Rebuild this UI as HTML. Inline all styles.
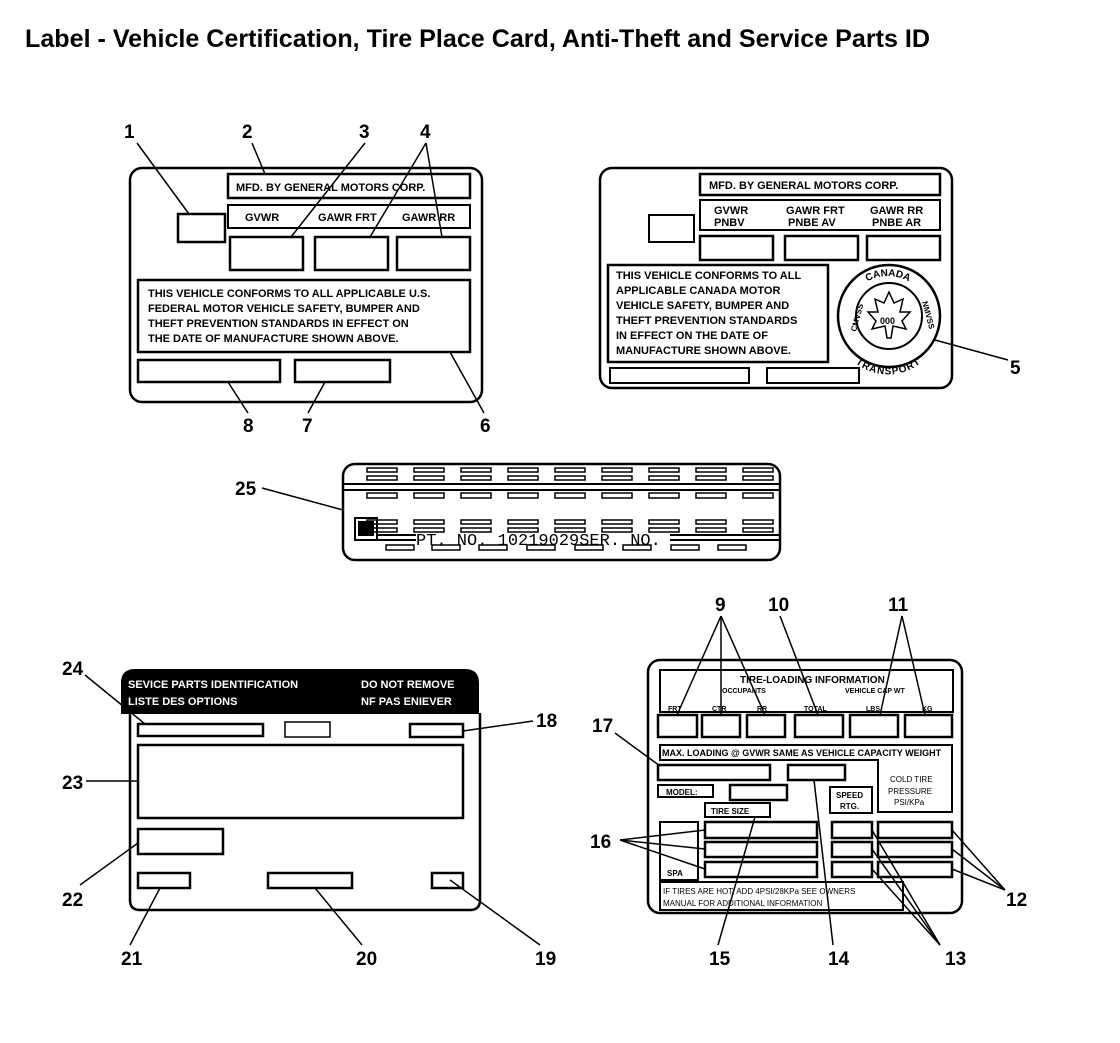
<!DOCTYPE html>
<html><head><style>
body{margin:0;background:#fff}
svg text{font-family:"Liberation Sans",Arial,sans-serif;font-weight:bold}
</style></head><body>
<svg width="1120" height="1038" viewBox="0 0 1120 1038" xmlns="http://www.w3.org/2000/svg" fill="none" stroke="#000" stroke-width="2">
<defs>
<path id="arcTop" d="M846 318 A42 42 0 0 1 930 318"/>
<path id="arcBot" d="M842 322 A46 46 0 0 0 934 322"/>
</defs>
<text x="25" y="47" font-size="25" fill="#000" stroke="none" textLength="905" lengthAdjust="spacingAndGlyphs">Label - Vehicle Certification, Tire Place Card, Anti-Theft and Service Parts ID</text>

<!-- Label 1 -->
<rect x="130" y="168" width="352" height="234" rx="12" stroke-width="2.5"/>
<rect x="178" y="214" width="47" height="28" stroke-width="2.5"/>
<rect x="228" y="174" width="242" height="24" stroke-width="2.5"/>
<rect x="228" y="205" width="242" height="23"/>
<g fill="#000" stroke="none" font-size="11">
<text x="236" y="191">MFD. BY GENERAL MOTORS CORP.</text>
<text x="245" y="221">GVWR</text><text x="318" y="221">GAWR FRT</text><text x="402" y="221">GAWR RR</text>
<text x="148" y="297">THIS VEHICLE CONFORMS TO ALL APPLICABLE U.S.</text>
<text x="148" y="312">FEDERAL MOTOR VEHICLE SAFETY, BUMPER AND</text>
<text x="148" y="327">THEFT PREVENTION STANDARDS IN EFFECT ON</text>
<text x="148" y="342">THE DATE OF MANUFACTURE SHOWN ABOVE.</text>
</g>
<rect x="230" y="237" width="73" height="33" stroke-width="2.5"/>
<rect x="315" y="237" width="73" height="33" stroke-width="2.5"/>
<rect x="397" y="237" width="73" height="33" stroke-width="2.5"/>
<rect x="138" y="280" width="332" height="72" stroke-width="2.5"/>
<rect x="138" y="360" width="142" height="22" stroke-width="2.5"/>
<rect x="295" y="360" width="95" height="22" stroke-width="2.5"/>

<!-- Label 2 -->
<rect x="600" y="168" width="352" height="220" rx="12" stroke-width="2.5"/>
<rect x="700" y="174" width="240" height="21" stroke-width="2.5"/>
<rect x="649" y="215" width="45" height="27"/>
<rect x="700" y="200" width="240" height="30"/>
<g fill="#000" stroke="none" font-size="11">
<text x="709" y="189">MFD. BY GENERAL MOTORS CORP.</text>
<text x="714" y="214">GVWR</text><text x="714" y="226">PNBV</text>
<text x="786" y="214">GAWR FRT</text><text x="788" y="226">PNBE AV</text>
<text x="870" y="214">GAWR RR</text><text x="872" y="226">PNBE AR</text>
<text x="616" y="279">THIS VEHICLE CONFORMS TO ALL</text>
<text x="616" y="294">APPLICABLE CANADA MOTOR</text>
<text x="616" y="309">VEHICLE SAFETY, BUMPER AND</text>
<text x="616" y="324">THEFT PREVENTION STANDARDS</text>
<text x="616" y="339">IN EFFECT ON THE DATE OF</text>
<text x="616" y="354">MANUFACTURE SHOWN ABOVE.</text>
<text font-size="10"><textPath href="#arcTop" startOffset="50%" text-anchor="middle">CANADA</textPath></text>
<text font-size="10"><textPath href="#arcBot" startOffset="50%" text-anchor="middle" dominant-baseline="hanging">TRANSPORT</textPath></text>
<text x="880" y="324" font-size="9">000</text>
<text x="856" y="332" font-size="8" transform="rotate(-75 856 332)">CMVSS</text>
<text x="922" y="302" font-size="8" transform="rotate(75 922 302)">NMVSS</text>
</g>
<rect x="700" y="236" width="73" height="24" stroke-width="2.5"/>
<rect x="785" y="236" width="73" height="24" stroke-width="2.5"/>
<rect x="867" y="236" width="73" height="24" stroke-width="2.5"/>
<rect x="608" y="265" width="220" height="97" stroke-width="2.5"/>
<circle cx="889" cy="316" r="51" stroke-width="2.5"/>
<circle cx="889" cy="316" r="33"/>
<path d="M889 292 L894 303 L903 299 L900 312 L910 312 L902 321 L906 329 L893 326 L891 338 L887 338 L885 326 L872 329 L876 321 L868 312 L878 312 L875 299 L884 303 Z" stroke-width="1.5"/>
<rect x="610" y="368" width="139" height="15"/>
<rect x="767" y="368" width="92" height="15"/>

<!-- Label 25 -->
<rect x="343" y="464" width="437" height="96" rx="12" stroke-width="2.5"/>
<line x1="343" y1="484" x2="780" y2="484"/>
<line x1="343" y1="490" x2="780" y2="490"/>
<g stroke-width="1.5">
<g id="r1">
<rect x="367" y="468" width="30" height="4"/><rect x="367" y="476" width="30" height="4"/>
<rect x="367" y="493" width="30" height="5"/>
<rect x="367" y="520" width="30" height="4"/><rect x="367" y="528" width="30" height="4"/>
</g>
<use href="#r1" x="47"/><use href="#r1" x="94"/><use href="#r1" x="141"/><use href="#r1" x="188"/><use href="#r1" x="235"/><use href="#r1" x="282"/><use href="#r1" x="329"/><use href="#r1" x="376"/>
<rect x="386" y="545" width="28" height="5"/><rect x="432" y="545" width="28" height="5"/><rect x="479" y="545" width="28" height="5"/><rect x="527" y="545" width="28" height="5"/><rect x="575" y="545" width="28" height="5"/><rect x="623" y="545" width="28" height="5"/><rect x="671" y="545" width="28" height="5"/><rect x="718" y="545" width="28" height="5"/>
</g>
<rect x="355" y="518" width="22" height="22" stroke-width="2"/>
<rect x="359" y="522" width="14" height="13" fill="#000"/>
<line x1="378" y1="535" x2="416" y2="535"/><line x1="378" y1="540" x2="416" y2="540"/>
<line x1="670" y1="540" x2="780" y2="540"/><line x1="670" y1="535" x2="780" y2="535"/>
<text x="416" y="545" font-size="17" fill="#000" stroke="none" style="font-family:'Liberation Mono',monospace;font-weight:normal">PT. NO. 10219029SER. NO.</text>

<!-- Service parts label -->
<path d="M130 713 L130 900 Q130 910 140 910 L470 910 Q480 910 480 900 L480 713" stroke-width="2.5"/>
<path d="M122 713 L122 683 Q122 670 135 670 L465 670 Q478 670 478 683 L478 713 Z" fill="#000"/>
<g fill="#fff" stroke="none" font-size="11">
<text x="128" y="688">SEVICE PARTS IDENTIFICATION</text>
<text x="128" y="705">LISTE DES OPTIONS</text>
<text x="361" y="688">DO NOT REMOVE</text>
<text x="361" y="705">NF PAS ENIEVER</text>
</g>
<rect x="138" y="724" width="125" height="12" stroke-width="2.5"/>
<rect x="285" y="722" width="45" height="15" stroke-width="1.5"/>
<rect x="410" y="724" width="53" height="13" stroke-width="2.5"/>
<rect x="138" y="745" width="325" height="73" stroke-width="2.5"/>
<rect x="138" y="829" width="85" height="25" stroke-width="2.5"/>
<rect x="138" y="873" width="52" height="15" stroke-width="2.5"/>
<rect x="268" y="873" width="84" height="15" stroke-width="2.5"/>
<rect x="432" y="873" width="31" height="15" stroke-width="2.5"/>

<!-- Tire label -->
<rect x="648" y="660" width="314" height="253" rx="12" stroke-width="2.5"/>
<rect x="660" y="670" width="293" height="42"/>
<rect x="658" y="715" width="39" height="22" stroke-width="2.5"/><rect x="702" y="715" width="38" height="22" stroke-width="2.5"/><rect x="747" y="715" width="38" height="22" stroke-width="2.5"/><rect x="795" y="715" width="48" height="22" stroke-width="2.5"/><rect x="850" y="715" width="48" height="22" stroke-width="2.5"/><rect x="905" y="715" width="47" height="22" stroke-width="2.5"/>
<path d="M660 745 H952 V812 H878 V760 H660 Z"/>
<rect x="658" y="765" width="112" height="15" stroke-width="2.5"/>
<rect x="788" y="765" width="57" height="15" stroke-width="2.5"/>
<rect x="658" y="785" width="55" height="12"/>
<rect x="730" y="785" width="57" height="15" stroke-width="2.5"/>
<rect x="830" y="787" width="42" height="26"/>
<rect x="705" y="803" width="65" height="14"/>
<rect x="660" y="822" width="38" height="58"/>
<rect x="705" y="822" width="112" height="16" stroke-width="2.5"/><rect x="705" y="842" width="112" height="15" stroke-width="2.5"/><rect x="705" y="862" width="112" height="15" stroke-width="2.5"/>
<rect x="832" y="822" width="40" height="16" stroke-width="2.5"/><rect x="832" y="842" width="40" height="15" stroke-width="2.5"/><rect x="832" y="862" width="40" height="15" stroke-width="2.5"/>
<rect x="878" y="822" width="74" height="16" stroke-width="2.5"/><rect x="878" y="842" width="74" height="15" stroke-width="2.5"/><rect x="878" y="862" width="74" height="15" stroke-width="2.5"/>
<rect x="660" y="882" width="243" height="28"/>
<g fill="#000" stroke="none" font-size="9">
<text x="740" y="683" font-size="10">TIRE-LOADING INFORMATION</text>
<text x="722" y="693" font-size="7">OCCUPANTS</text><text x="845" y="693" font-size="7">VEHICLE CAP WT</text>
<text x="668" y="711" font-size="7">FRT</text><text x="712" y="711" font-size="7">CTR</text><text x="757" y="711" font-size="7">RR</text><text x="804" y="711" font-size="7">TOTAL</text><text x="866" y="711" font-size="7">LBS</text><text x="922" y="711" font-size="7">KG</text>
<text x="662" y="756">MAX. LOADING @ GVWR SAME AS VEHICLE CAPACITY WEIGHT</text>
<text x="666" y="795" font-size="8">MODEL:</text>
<text x="711" y="814" font-size="8">TIRE SIZE</text>
<text x="836" y="798" font-size="8">SPEED</text><text x="840" y="809" font-size="8">RTG.</text>
<text x="890" y="782" font-size="8" style="font-weight:normal">COLD TIRE</text><text x="888" y="794" font-size="8" style="font-weight:normal">PRESSURE</text><text x="894" y="805" font-size="8" style="font-weight:normal">PSI/KPa</text>
<text x="667" y="876" font-size="8">SPA</text>
<text x="663" y="894" font-size="8" style="font-weight:normal">IF TIRES ARE HOT, ADD 4PSI/28KPa SEE OWNERS</text>
<text x="663" y="906" font-size="8" style="font-weight:normal">MANUAL FOR ADDITIONAL INFORMATION</text>
</g>

<!-- callout numbers -->
<g fill="#000" stroke="none" font-size="19" style="font-weight:normal">
<text x="124" y="138">1</text><text x="242" y="138">2</text><text x="359" y="138">3</text><text x="420" y="138">4</text>
<text x="1010" y="374">5</text><text x="480" y="432">6</text><text x="302" y="432">7</text><text x="243" y="432">8</text>
<text x="235" y="495">25</text>
<text x="715" y="611">9</text><text x="768" y="611">10</text><text x="888" y="611">11</text>
<text x="1006" y="906">12</text><text x="945" y="965">13</text><text x="828" y="965">14</text><text x="709" y="965">15</text>
<text x="590" y="848">16</text><text x="592" y="732">17</text><text x="536" y="727">18</text>
<text x="535" y="965">19</text><text x="356" y="965">20</text><text x="121" y="965">21</text><text x="62" y="906">22</text><text x="62" y="789">23</text><text x="62" y="675">24</text>
</g>
<g stroke-width="1.5">
<line x1="137" y1="143" x2="189" y2="214"/>
<line x1="252" y1="143" x2="265" y2="174"/>
<line x1="365" y1="143" x2="291" y2="237"/>
<line x1="426" y1="143" x2="370" y2="237"/><line x1="426" y1="143" x2="442" y2="237"/>
<line x1="1008" y1="360" x2="935" y2="340"/>
<line x1="484" y1="413" x2="450" y2="352"/>
<line x1="308" y1="413" x2="325" y2="382"/>
<line x1="248" y1="413" x2="228" y2="382"/>
<line x1="262" y1="488" x2="343" y2="510"/>
<line x1="721" y1="616" x2="677" y2="715"/><line x1="721" y1="616" x2="721" y2="715"/><line x1="721" y1="616" x2="765" y2="715"/>
<line x1="780" y1="616" x2="818" y2="715"/>
<line x1="902" y1="616" x2="880" y2="715"/><line x1="902" y1="616" x2="925" y2="715"/>
<line x1="1005" y1="890" x2="952" y2="830"/><line x1="1005" y1="890" x2="952" y2="849"/><line x1="1005" y1="890" x2="952" y2="869"/>
<line x1="940" y1="945" x2="872" y2="830"/><line x1="940" y1="945" x2="872" y2="849"/><line x1="940" y1="945" x2="872" y2="869"/>
<line x1="833" y1="945" x2="814" y2="780"/>
<line x1="718" y1="945" x2="755" y2="817"/>
<line x1="620" y1="840" x2="705" y2="830"/><line x1="620" y1="840" x2="705" y2="849"/><line x1="620" y1="840" x2="705" y2="869"/>
<line x1="615" y1="733" x2="660" y2="766"/>
<line x1="533" y1="721" x2="463" y2="731"/>
<line x1="540" y1="945" x2="450" y2="880"/>
<line x1="362" y1="945" x2="315" y2="888"/>
<line x1="130" y1="945" x2="160" y2="888"/>
<line x1="80" y1="885" x2="138" y2="843"/>
<line x1="86" y1="781" x2="138" y2="781"/>
<line x1="85" y1="675" x2="145" y2="724"/>
</g>
</svg>
</body></html>
